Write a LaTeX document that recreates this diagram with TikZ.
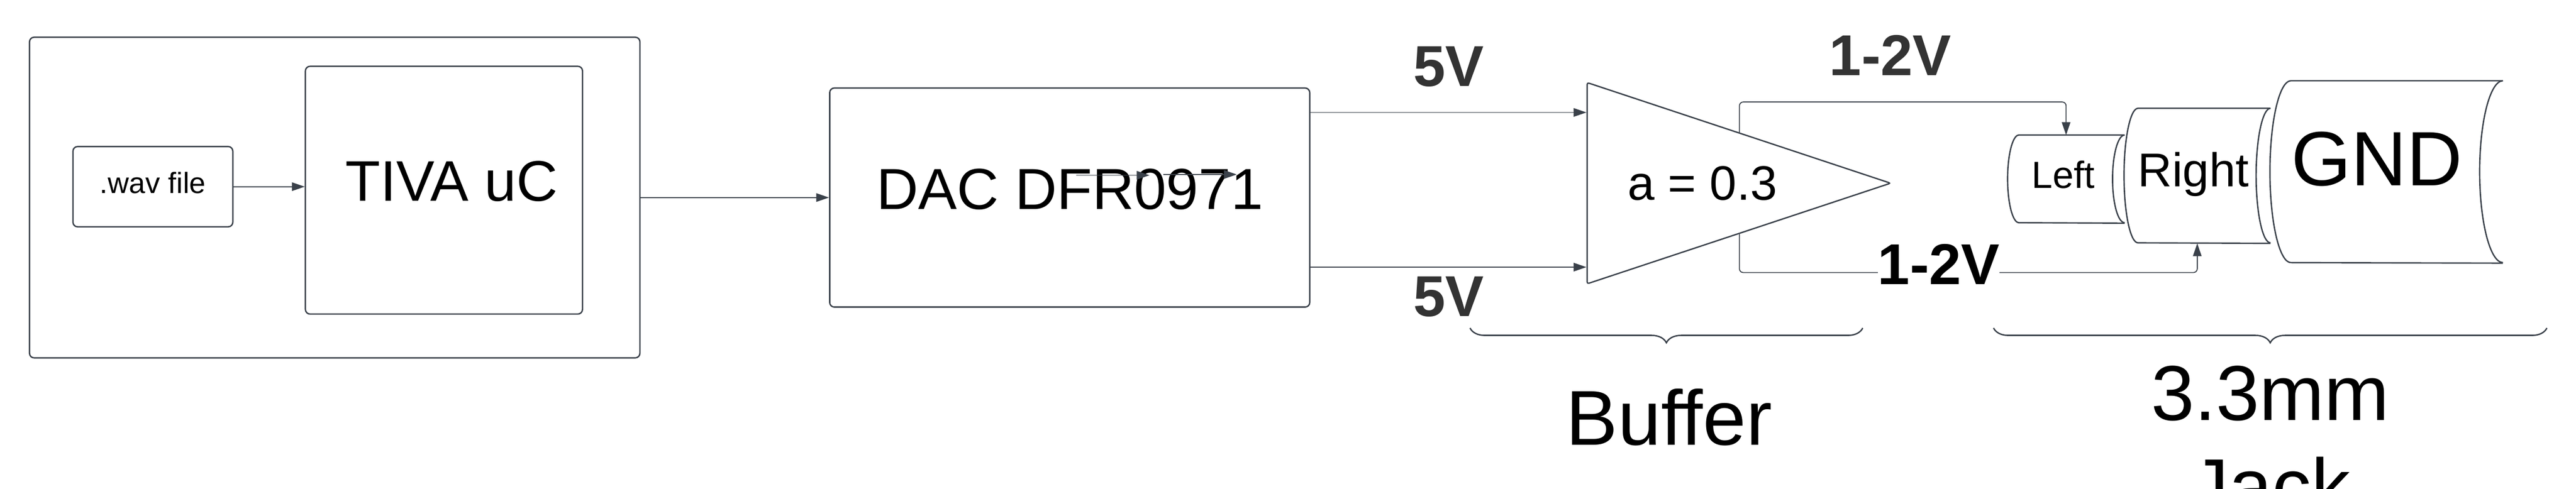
\documentclass[tikz,border=0pt]{standalone}
\usepackage{fontspec}
\setmainfont{Liberation Sans}
\usepackage{tikz}
\usetikzlibrary{arrows.meta,calc,shapes.geometric,decorations.pathreplacing}
\definecolor{linecol}{HTML}{3A414A}
\definecolor{boldcol}{HTML}{333333}

\newcommand{\jackcurve}[4]{%
  \draw[jack] (#1.north east) -- ($(#1.north west)+(#2,0)$)
    arc[start angle=90,end angle=270,x radius=#2,y radius=#4]
    -- (#1.south east);
  \draw[jack] (#1.north east) arc[start angle=90,end angle=270,x radius=#3,y radius=#4];
}

\begin{document}
\begin{tikzpicture}[
    box/.style={rectangle,draw=linecol,line width=1pt,rounded corners=0.12cm,inner sep=0pt},
    jackbody/.style={rectangle,inner sep=0pt},
    jack/.style={draw=linecol,line width=1pt},
    wire/.style={draw=linecol,line width=0.7pt,-{Triangle[length=0.33cm,width=0.22cm]}},
    lab/.style={anchor=base,inner sep=0pt},
    strong/.style={lab,font=\fontsize{42.3}{50}\selectfont\bfseries,text=boldcol},
    brc/.style={draw=linecol,line width=1pt,decorate,decoration={brace,mirror,amplitude=0.38cm}}]
    \useasboundingbox (0,0) rectangle (66.38,12.6);

    % Left: board with the wav file
    \node[box,minimum width=15.73cm,minimum height=8.27cm] (board) at (8.625,7.505) {};
    \node[box,minimum width=7.14cm,minimum height=6.39cm] (tiva) at (11.44,7.695) {};
    \node[box,minimum width=4.12cm,minimum height=2.07cm] (wav) at (3.94,7.785) {};
    \node[lab,font=\fontsize{21.5}{25}\selectfont] (wavtxt) at (3.94,7.62) {.wav file};
    \node[lab,font=\fontsize{42}{50}\selectfont] (tivatxt) at (11.64,7.42) {TIVA uC};
    \draw[wire] (wav) -- (wav -| tiva.west);

    % Middle: DAC
    \node[box,minimum width=12.37cm,minimum height=5.65cm] (dac) at (27.565,7.505) {};
    \node[lab,font=\fontsize{42.5}{50}\selectfont] (dactxt) at (27.57,7.20) {DAC DFR0971};
    \draw[wire] (board) -- (dac);
    % two short arrows over the DAC label
    \coordinate (strayA) at (27.73,8.08);
    \coordinate (strayB) at (29.62,8.08);
    \coordinate (strayC) at (29.98,8.10);
    \coordinate (strayD) at (31.87,8.10);
    \draw[wire] (strayA) -- (strayB);
    \draw[wire] (strayC) -- (strayD);

    % Buffer triangle
    \node[isosceles triangle,isosceles triangle stretches,shape border rotate=0,draw=linecol,line width=1pt,
      rounded corners=0.05cm,inner sep=0pt,minimum width=5.19cm,minimum height=7.82cm,anchor=lower side] (buffer) at (40.88,7.875) {};
    \node[lab,font=\fontsize{35.5}{40}\selectfont] (gain) at (43.87,7.44) {a = 0.3};
    \coordinate (dacA) at (33.75,9.70);
    \coordinate (dacB) at (33.75,5.71);
    \draw[wire] (dacA) -- (dacA -| buffer.lower side);
    \draw[wire] (dacB) -- (dacB -| buffer.lower side);
    \node[strong] (fiveA) at (37.33,10.37) {5V};
    \node[strong] (fiveB) at (37.33,4.44) {5V};

    % Right: jack
    \node[jackbody,minimum width=3cm,minimum height=2.26cm] (leftj) at (53.24,7.98) {};
    \node[jackbody,minimum width=3.76cm,minimum height=3.47cm] (rightj) at (56.62,8.065) {};
    \node[jackbody,minimum width=5.99cm,minimum height=4.69cm] (gndj) at (61.495,8.165) {};
    \jackcurve{leftj}{0.29}{0.31}{1.13}
    \jackcurve{rightj}{0.36}{0.37}{1.735}
    \jackcurve{gndj}{0.54}{0.60}{2.345}
    \node[lab,font=\fontsize{27.7}{32}\selectfont] (lefttxt) at (53.17,7.75) {Left};
    \node[lab,font=\fontsize{34.8}{40}\selectfont] (righttxt) at (56.52,7.79) {Right};
    \node[lab,font=\fontsize{56.5}{60}\selectfont] (gndtxt) at (61.25,7.82) {GND};

    % wires out of the buffer
    \coordinate (bendA) at (44.80,9.97);
    \coordinate (bendB) at (44.80,5.57);
    \coordinate (outA) at ($(buffer.apex)!0.5!(buffer.left corner)$);
    \coordinate (outB) at ($(buffer.apex)!0.5!(buffer.right corner)$);
    \draw[wire,rounded corners=0.1cm] (outA) -- (outA |- bendA) -- (leftj.north |- bendA) -- (leftj.north);
    \draw[wire,rounded corners=0.1cm] (outB) -- (outB |- bendB) -- (rightj.south |- bendB) -- (rightj.south);
    \node[strong] (oneA) at (48.71,10.65) {1-2V};
    \node[strong,text=black,fill=white] (oneB) at (49.96,5.27) {1-2V};

    % braces
    \coordinate (bufL) at (37.88,4.14);
    \coordinate (bufR) at (48.00,4.14);
    \coordinate (jackL) at (51.37,4.14);
    \coordinate (jackR) at (65.63,4.14);
    \draw[brc] (bufL) -- (bufR);
    \draw[brc] (jackL) -- (jackR);
    \node[lab,font=\fontsize{57}{60}\selectfont] (buftxt) at (43.01,1.12) {Buffer};
    \node[lab,font=\fontsize{57.2}{68.3}\selectfont,align=center] (jacktxt) at (58.50,-0.64) {3.3mm\\Jack};
\end{tikzpicture}
\end{document}
